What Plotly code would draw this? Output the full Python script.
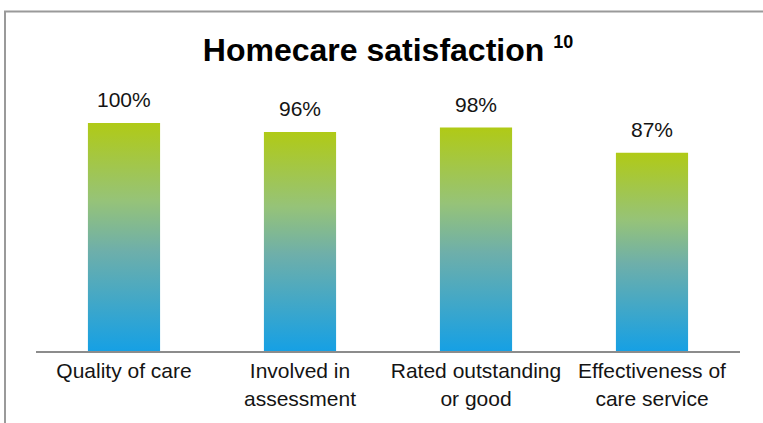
import plotly.graph_objects as go

# ---- data ----
categories = ["Quality of care", "Involved in<br>assessment", "Rated outstanding<br>or good", "Effectiveness of<br>care service"]
values = [100, 96, 98, 87]
title_text = "Homecare satisfaction"
title_sup = "10"

# ---- style ----
FONT = "Liberation Sans, Arial, sans-serif"
GRADIENT = [[0, "#16a0e4"], [0.44, "#6eafaa"], [0.66, "#96c378"], [1, "#b0ca16"]]
BAR_WIDTH = 0.41
W, H = 763, 423
M = dict(l=36, r=23, t=66, b=72)

fig = go.Figure()
for i, v in enumerate(values):
    x0, x1 = i - BAR_WIDTH / 2, i + BAR_WIDTH / 2
    fig.add_trace(go.Scatter(
        x=[x0, x1, x1, x0, x0], y=[0, 0, v, v, 0],
        mode="lines", fill="toself", line=dict(width=0),
        fillgradient=dict(type="vertical", colorscale=GRADIENT),
        hoverinfo="skip", showlegend=False,
    ))
    fig.add_annotation(x=i, y=v, text=f"{v}%", showarrow=False, yanchor="bottom",
                       yshift=10, font=dict(family=FONT, size=21, color="#141414"))

pw = W - M["l"] - M["r"]
ph = H - M["t"] - M["b"]
# chart border (cut at bottom/right like the reference)
fig.add_shape(type="rect", xref="paper", yref="paper",
              x0=(5 - M["l"]) / pw, x1=(W + 20 - M["l"]) / pw,
              y0=-(M["b"] + 20) / ph, y1=(H - M["b"] - 11.5) / ph,
              line=dict(color="#9a9a9a", width=2), fillcolor="rgba(0,0,0,0)", layer="below")

fig.update_layout(
    width=W, height=H, margin=M,
    paper_bgcolor="white", plot_bgcolor="white",
    title=dict(text=f"<b>{title_text} <sup><span style='font-size:18px'>{title_sup}</span></sup></b>",
               x=0.5, xref="paper", xanchor="center",
               y=1 - 50 / H, yref="container", yanchor="middle",
               font=dict(family=FONT, size=32, color="#000000")),
    xaxis=dict(range=[-0.5, len(values) - 0.5], tickvals=list(range(len(categories))), ticktext=categories,
               showgrid=False, zeroline=False, showline=True, linecolor="#8c8c8c", linewidth=2,
               ticks="", tickfont=dict(family=FONT, size=21, color="#141414"), fixedrange=True),
    yaxis=dict(range=[0, 125], visible=False, showgrid=False, zeroline=False, fixedrange=True),
)

fig.write_html("out.html")
